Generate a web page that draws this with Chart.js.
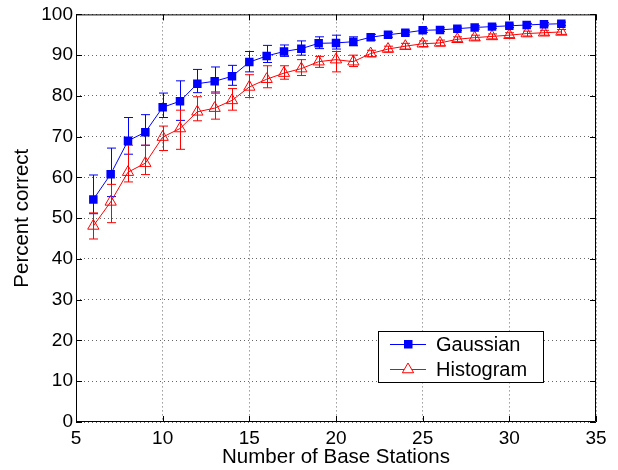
<!DOCTYPE html>
<html>
<head>
<meta charset="utf-8">
<script src="https://cdn.jsdelivr.net/npm/chart.js@4"></script>
<style>
  body { margin: 0; background: #fff; }
  canvas { display: block; }
</style>
</head>
<body>
<canvas id="chart" width="618" height="470"></canvas>
<script>
// number of base stations
const stations = [6, 7, 8, 9, 10, 11, 12, 13, 14, 15, 16, 17, 18, 19, 20,
                  21, 22, 23, 24, 25, 26, 27, 28, 29, 30, 31, 32, 33];

const gaussian = [54.6, 60.8, 69.0, 71.1, 77.2, 78.7, 83.0, 83.6, 84.8, 88.3, 89.8, 90.9, 91.6, 92.9,
                  93.0, 93.3, 94.4, 95.0, 95.5, 96.1, 96.2, 96.5, 96.8, 97.0, 97.2, 97.4, 97.6, 97.7];
const gaussianLow = [51.1, 55.3, 65.7, 67.9, 74.7, 74.0, 80.8, 80.7, 82.6, 85.9, 88.2, 89.7, 90.0, 91.6,
                     91.5, 92.3, 93.7, 94.4, 95.0, 95.6, 95.8, 96.1, 96.4, 96.6, 96.8, 97.0, 97.2, 97.3];
const gaussianHigh = [60.6, 67.2, 74.7, 75.4, 80.7, 83.7, 86.5, 87.1, 87.5, 90.9, 92.4, 92.5, 93.5, 94.5,
                      94.9, 94.5, 95.1, 95.6, 96.0, 96.6, 96.7, 96.9, 97.2, 97.4, 97.6, 97.8, 98.0, 98.1];

const histogram = [48.1, 54.0, 61.3, 63.5, 69.9, 72.0, 76.1, 77.0, 78.9, 82.2, 84.1, 85.6, 86.7, 88.4,
                   88.9, 88.4, 90.4, 91.5, 92.2, 92.8, 93.0, 93.9, 94.3, 94.6, 94.9, 95.3, 95.5, 95.7];
const histogramLow = [44.9, 48.9, 58.9, 60.7, 66.6, 66.9, 73.9, 74.3, 76.5, 79.6, 82.0, 84.1, 85.0, 87.0,
                      85.9, 87.2, 89.6, 90.8, 91.5, 92.1, 92.3, 93.3, 93.7, 94.0, 94.3, 94.7, 94.9, 95.1];
const histogramHigh = [51.3, 58.3, 67.9, 67.9, 72.6, 76.5, 79.8, 81.0, 81.8, 85.2, 87.4, 87.4, 88.9, 89.7,
                       90.9, 90.0, 91.2, 92.2, 92.9, 93.5, 93.7, 94.5, 94.9, 95.2, 95.5, 95.9, 96.1, 96.3];

const xTicks = [5, 10, 15, 20, 25, 30, 35];
const yTicks = [0, 10, 20, 30, 40, 50, 60, 70, 80, 90, 100];

const BLUE = '#0000ff';
const RED = '#ff0000';
const FONT = 'Liberation Sans, Arial, Helvetica, sans-serif';

function points(ys) {
    return stations.map((x, i) => ({x: x, y: ys[i]}));
}

// error bars, frame with inward ticks, and the boxed legend
const extras = {
    id: 'extras',
    beforeDatasetsDraw(chart) {
        const ctx = chart.ctx;
        const xs = chart.scales.x, ys = chart.scales.y;
        const bars = [
            [gaussianLow, gaussianHigh, BLUE],
            [histogramLow, histogramHigh, RED],
        ];
        ctx.save();
        ctx.lineWidth = 1;
        bars.forEach(([lo, hi, color]) => {
            ctx.strokeStyle = color;
            stations.forEach((s, i) => {
                const px = Math.round(xs.getPixelForValue(s)) + 0.5;
                const y1 = ys.getPixelForValue(lo[i]);
                const y2 = ys.getPixelForValue(hi[i]);
                ctx.beginPath();
                ctx.moveTo(px, y1); ctx.lineTo(px, y2);
                ctx.moveTo(px - 4.5, y1); ctx.lineTo(px + 4.5, y1);
                ctx.moveTo(px - 4.5, y2); ctx.lineTo(px + 4.5, y2);
                ctx.stroke();
            });
        });

        const a = chart.chartArea;
        ctx.strokeStyle = '#000';
        ctx.beginPath();
        ctx.rect(a.left + 0.5, a.top + 0.5, a.right - a.left - 1, a.bottom - a.top - 1);
        xTicks.forEach(v => {
            const px = Math.round(xs.getPixelForValue(v)) + 0.5;
            ctx.moveTo(px, a.bottom); ctx.lineTo(px, a.bottom - 6);
            ctx.moveTo(px, a.top); ctx.lineTo(px, a.top + 6);
        });
        yTicks.forEach(v => {
            const py = Math.round(ys.getPixelForValue(v)) + 0.5;
            ctx.moveTo(a.left, py); ctx.lineTo(a.left + 6, py);
            ctx.moveTo(a.right, py); ctx.lineTo(a.right - 6, py);
        });
        ctx.stroke();
        ctx.restore();
    },
    afterDraw(chart) {
        const ctx = chart.ctx;
        ctx.save();
        ctx.fillStyle = '#fff';
        ctx.strokeStyle = '#000';
        ctx.lineWidth = 1;
        ctx.fillRect(378.5, 331.5, 165, 51);
        ctx.strokeRect(378.5, 331.5, 165, 51);

        const rows = [['Gaussian', BLUE, 344.5], ['Histogram', RED, 369.5]];
        ctx.font = '20px ' + FONT;
        ctx.textBaseline = 'middle';
        rows.forEach(([label, color, y], i) => {
            ctx.strokeStyle = color;
            ctx.beginPath();
            ctx.moveTo(390, y); ctx.lineTo(426, y);
            ctx.stroke();
            if (i === 0) {
                ctx.fillStyle = color;
                ctx.fillRect(404, y - 4.5, 8.5, 8.5);
            } else {
                const r = 6.5;
                ctx.beginPath();
                ctx.moveTo(408, y - r);
                ctx.lineTo(408 + r * 0.866, y + r * 0.5);
                ctx.lineTo(408 - r * 0.866, y + r * 0.5);
                ctx.closePath();
                ctx.fillStyle = '#fff';
                ctx.fill();
                ctx.stroke();
            }
            ctx.fillStyle = '#000';
            ctx.fillText(label, 436, y + 1);
        });
        ctx.restore();
    }
};

const ctx = document.getElementById('chart').getContext('2d');
new Chart(ctx, {
    type: 'line',
    data: {
        datasets: [
            {
                label: 'Gaussian',
                data: points(gaussian),
                borderColor: BLUE,
                backgroundColor: BLUE,
                borderWidth: 1,
                pointStyle: 'rect',
                pointRadius: 6,
                pointBorderWidth: 0,
                pointBackgroundColor: BLUE,
                tension: 0,
            },
            {
                label: 'Histogram',
                data: points(histogram),
                borderColor: RED,
                backgroundColor: RED,
                borderWidth: 1,
                pointStyle: 'triangle',
                pointRadius: 6.5,
                pointBorderWidth: 1,
                pointBorderColor: RED,
                pointBackgroundColor: 'rgba(0,0,0,0)',
                tension: 0,
            },
        ],
    },
    options: {
        responsive: false,
        animation: false,
        events: [],
        layout: {
            padding: {left: 0, right: 22, top: 12, bottom: 0},
        },
        scales: {
            x: {
                type: 'linear',
                min: 5,
                max: 35,
                afterBuildTicks: s => { s.ticks = xTicks.map(v => ({value: v})); },
                afterFit: s => { s.height = 48; },
                grid: {color: '#666', drawTicks: false, lineWidth: 1},
                border: {display: false, dash: [1, 3]},
                ticks: {
                    color: '#000',
                    padding: 5,
                    maxRotation: 0,
                    font: {family: FONT, size: 19},
                },
                title: {
                    display: true,
                    text: 'Number of Base Stations',
                    color: '#000',
                    padding: {top: 0, bottom: 0},
                    font: {family: FONT, size: 20.5},
                },
            },
            y: {
                min: 0,
                max: 100,
                afterBuildTicks: s => { s.ticks = yTicks.map(v => ({value: v})); },
                afterFit: s => { s.width = 76; },
                grid: {color: '#666', drawTicks: false, lineWidth: 1},
                border: {display: false, dash: [1, 3]},
                ticks: {
                    color: '#000',
                    padding: 3,
                    font: {family: FONT, size: 19},
                },
                title: {
                    display: true,
                    text: 'Percent correct',
                    color: '#000',
                    padding: {top: 10, bottom: 0},
                    font: {family: FONT, size: 20.5},
                },
            },
        },
        plugins: {
            legend: {display: false},
            tooltip: {enabled: false},
        },
    },
    plugins: [extras],
});
</script>
</body>
</html>
